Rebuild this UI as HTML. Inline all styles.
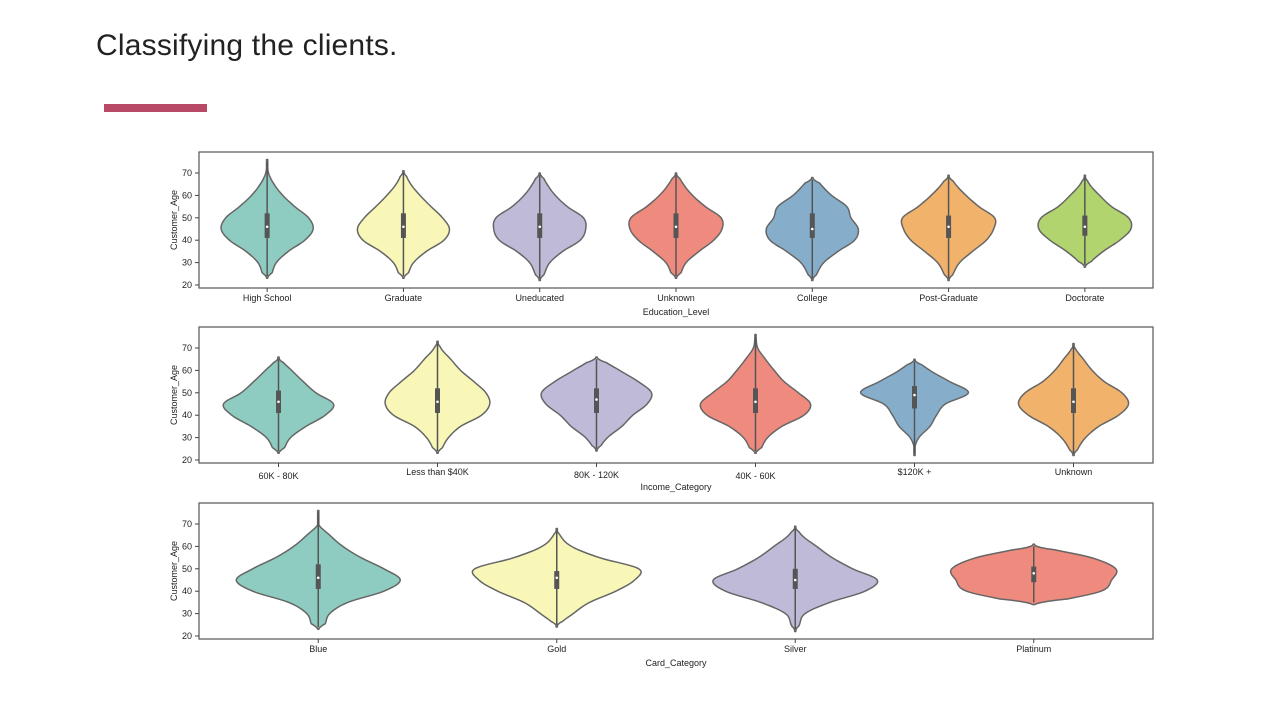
<!DOCTYPE html>
<html><head><meta charset="utf-8">
<style>
html,body{margin:0;padding:0;background:#fff;}
body{width:1280px;height:720px;position:relative;overflow:hidden;font-family:"Liberation Sans",sans-serif;}
#title{position:absolute;left:96px;top:29px;font-size:30px;color:#222;font-weight:300;letter-spacing:0.2px;}
#bar{position:absolute;left:104px;top:104px;width:103px;height:8px;background:#b84a66;}
svg{position:absolute;left:0;top:0;}
</style></head>
<body>
<div id="title">Classifying the clients.</div>
<div id="bar"></div>
<svg id="chart" width="1280" height="720"></svg>
<script>
// ages at which densities are sampled
const AGES = [20,25,30,35,40,45,50,55,60,65,70,75,80];
const yTicks = [20,30,40,50,60,70];

// Chart 1: Education_Level
const eduCats = ["High School","Graduate","Uneducated","Unknown","College","Post-Graduate","Doctorate"];
const eduColors = ["#8ecbc0","#f8f7b8","#bfbad7","#ee8a7e","#86aecb","#f1b26c","#b1d46f"];
const eduMin = [23,23,22,23,22,22,28];
const eduMax = [76,71,70,70,68,69,69];
const eduQ1 = [41,41,41,41,41,41,42];
const eduMed = [46,46,46,46,45,46,46];
const eduQ3 = [52,52,52,52,52,51,51];
const eduDens = [
 [0,.1,.2,.46,.82,1,.9,.6,.34,.15,.03,.01,0],
 [0,.1,.22,.5,.88,1,.85,.6,.36,.16,.04,0,0],
 [0,.1,.22,.5,.88,1,.95,.6,.34,.16,.04,0,0],
 [0,.1,.22,.5,.82,1,.98,.64,.36,.16,.03,0,0],
 [0,.1,.25,.56,.92,1,.84,.75,.42,.18,0,0,0],
 [0,.1,.24,.52,.82,.98,1,.66,.38,.15,0,0,0],
 [0,0,.12,.4,.76,1,.95,.58,.32,.1,0,0,0]
];

// Chart 2: Income_Category
const incCats = ["60K - 80K","Less than $40K","80K - 120K","40K - 60K","$120K +","Unknown"];
const incColors = ["#8ecbc0","#f8f7b8","#bfbad7","#ee8a7e","#86aecb","#f1b26c"];
const incMin = [23,23,24,23,22,22];
const incMax = [66,73,66,76,65,72];
const incQ1 = [41,41,41,41,43,41];
const incMed = [46,46,47,46,49,46];
const incQ3 = [51,52,52,52,53,52];
const incDens = [
 [0,.1,.22,.5,.85,1,.68,.45,.24,.04,0,0,0],
 [0,.08,.2,.42,.8,.95,.88,.66,.42,.24,.06,.01,0],
 [0,.05,.2,.46,.66,.92,1,.76,.42,.1,0,0,0],
 [0,.1,.22,.48,.88,1,.78,.52,.34,.18,.04,.01,0],
 [0,0,.08,.28,.4,.56,.98,.64,.28,.03,0,0,0],
 [0,.08,.22,.46,.82,1,.88,.56,.34,.18,.03,0,0]
];

// Chart 3: Card_Category
const cardCats = ["Blue","Gold","Silver","Platinum"];
const cardColors = ["#8ecbc0","#f8f7b8","#bfbad7","#ee8a7e"];
const cardMin = [23,24,22,34];
const cardMax = [76,68,69,61];
const cardQ1 = [41,41,41,44];
const cardMed = [46,46,45,48];
const cardQ3 = [52,49,50,51];
const cardDens = [
 [0,.08,.14,.36,.8,1,.8,.52,.3,.14,0,0,0],
 [0,.03,.2,.4,.72,.95,1,.52,.18,.04,0,0,0],
 [0,.05,.12,.42,.85,1,.7,.45,.26,.08,0,0,0],
 [0,0,0,.25,.82,.95,1,.7,.1,0,0,0,0]
];

const NS="http://www.w3.org/2000/svg";
const svg=document.getElementById('chart');
function mk(tag,attrs,parent){const e=document.createElementNS(NS,tag);for(const k in attrs)e.setAttribute(k,attrs[k]);(parent||svg).appendChild(e);return e;}

function densAt(d,a){
  const t=(a-AGES[0])/5; let i=Math.floor(t); if(i<0)return d[0]; if(i>=AGES.length-1)return d[AGES.length-1];
  const f=t-i; const p0=d[Math.max(i-1,0)],p1=d[i],p2=d[i+1],p3=d[Math.min(i+2,d.length-1)];
  const v=0.5*((2*p1)+(-p0+p2)*f+(2*p0-5*p1+4*p2-p3)*f*f+(-p0+3*p1-3*p2+p3)*f*f*f);
  return Math.max(v,0);
}

function drawChart(cfg){
  const {top,cats,colors,mins,maxs,q1,med,q3,dens,halfW,xTitle,labelDy,name}=cfg;
  const L=199,R=1153,B=top+136;
  const y0=top+133, y70=top+21;
  const ys=v=>y0-(v-20)*(y0-y70)/50;
  const step=(R-L)/cats.length; const xs=i=>L+step*(i+0.5);
  const g=mk('g',{});
  
  
  const frame=mk('rect',{x:L,y:top,width:R-L,height:136,fill:'none',stroke:'#555','stroke-width':1.2},g);
  
  
  yTicks.forEach(v=>{
    const y=ys(v);
    mk('line',{x1:L-4,x2:L,y1:y,y2:y,stroke:'#444','stroke-width':1},g);
    const t=mk('text',{x:L-7,y:y+3,'text-anchor':'end','font-size':9,fill:'#222'},g);
    t.textContent=v;
    
    
  });
  const yt=mk('text',{x:0,y:0,transform:`translate(177,${top+68}) rotate(-90)`,'text-anchor':'middle','font-size':9,fill:'#222'},g);
  yt.textContent='Customer_Age';
  
  
  const xt=mk('text',{x:676,y:B+27,'text-anchor':'middle','font-size':9,fill:'#222'},g);
  xt.textContent=xTitle;
  
  
  cats.forEach((c,i)=>{
    const cx=xs(i);
    mk('line',{x1:cx,x2:cx,y1:B,y2:B+4,stroke:'#444','stroke-width':1},g);
    const t=mk('text',{x:cx,y:B+13+(labelDy?labelDy[i]:0),'text-anchor':'middle','font-size':9,fill:'#222'},g);
    t.textContent=c;
    
    
    const lo=mins[i],hi=maxs[i];
    const pts=[];
    for(let a=lo;a<=hi+0.001;a+=0.5){
      let w=densAt(dens[i],a);
      const taper=Math.min(1,(a-lo)/2.5,(hi-a)/2.5);
      w=w*Math.max(taper,0);
      pts.push([a,Math.max(w*halfW,0.6)]);
    }
    let d='M'+cx+','+ys(lo);
    pts.forEach(p=>{d+=' L'+(cx+p[1]).toFixed(2)+','+ys(p[0]).toFixed(2);});
    d+=' L'+cx+','+ys(hi);
    for(let k=pts.length-1;k>=0;k--){d+=' L'+(cx-pts[k][1]).toFixed(2)+','+ys(pts[k][0]).toFixed(2);}
    d+='Z';
    const v=mk('path',{d:d,fill:colors[i],stroke:'#666','stroke-width':1.5,'stroke-linejoin':'round'},g);
    
    
    mk('line',{x1:cx,x2:cx,y1:ys(lo+1),y2:ys(hi-1),stroke:'#555','stroke-width':1.5},g);
    const bx=mk('rect',{x:cx-2.5,y:ys(q3[i]),width:5,height:ys(q1[i])-ys(q3[i]),fill:'#555'},g);
    
    
    mk('circle',{cx:cx,cy:ys(med[i]),r:1.3,fill:'#fff'},g);
  });
}

drawChart({top:152,cats:eduCats,colors:eduColors,mins:eduMin,maxs:eduMax,q1:eduQ1,med:eduMed,q3:eduQ3,dens:eduDens,halfW:46,xTitle:'Education_Level',name:'education-violin-chart'});
drawChart({top:327,cats:incCats,colors:incColors,mins:incMin,maxs:incMax,q1:incQ1,med:incMed,q3:incQ3,dens:incDens,halfW:55,xTitle:'Income_Category',labelDy:[3,-1,2,3,-1,-1],name:'income-violin-chart'});
drawChart({top:503,cats:cardCats,colors:cardColors,mins:cardMin,maxs:cardMax,q1:cardQ1,med:cardMed,q3:cardQ3,dens:cardDens,halfW:82,xTitle:'Card_Category',name:'card-violin-chart'});
</script>
</body></html>
